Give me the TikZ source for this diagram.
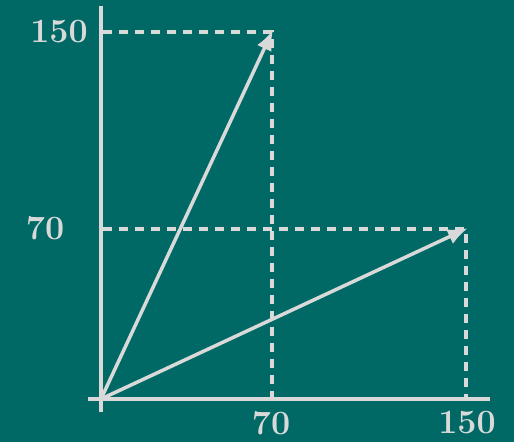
\documentclass[tikz,border=0pt]{standalone}
\usetikzlibrary{arrows.meta}
\definecolor{bg}{HTML}{006966}
\definecolor{fg}{HTML}{D9D9D9}
\tikzset{
  axisline/.style={draw=fg, line width=3.5pt},
  vec/.style={draw=fg, line width=3.5pt, -{Latex[length=20pt,width=16pt]}, shorten >=-2pt},
  guide/.style={draw=fg, line width=3.5pt, dash pattern=on 9pt off 7pt},
  lbl/.style={text=fg, font=\fontsize{34}{38}\selectfont\bfseries, inner sep=0pt}
}
\begin{document}
\begin{tikzpicture}[x=1pt,y=-1pt]
\fill[bg] (0,0) rectangle (514,442);
\useasboundingbox (0,0) rectangle (514,442);
\coordinate (O) at (101,399);
\coordinate (ytop) at (101,6);
\coordinate (ybot) at (101,412);
\coordinate (xl) at (88,399);
\coordinate (xr) at (490,399);
\coordinate (A) at (272,32);
\coordinate (B) at (466,229);
\coordinate (Ay) at (103,32);
\coordinate (Ax) at (272,397);
\coordinate (By) at (103,229);
\coordinate (Bx) at (466,397);
\draw[axisline] (ytop) -- (ybot);
\draw[axisline] (xl) -- (xr);
\draw[guide] (Ay) -- (A) -- (Ax);
\draw[guide] (By) -- (B) -- (Bx);
\draw[vec] (O) -- (A);
\draw[vec] (O) -- (B);
\node[lbl] (l150y) at (59,32) {150};
\node[lbl] (l70y) at (45,228) {70};
\node[lbl] (l70x) at (271,423) {70};
\node[lbl] (l150x) at (467,423) {150};
\end{tikzpicture}
\end{document}
